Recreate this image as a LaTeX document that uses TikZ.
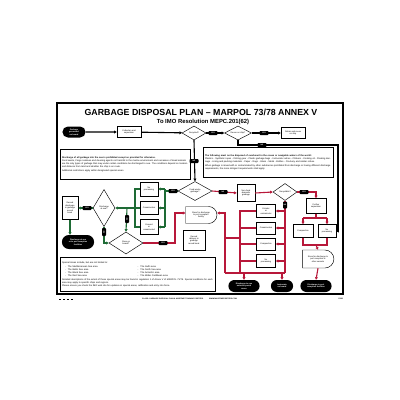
\documentclass[tikz,border=0pt]{standalone}
\usepackage{fontspec}
\setmainfont{Liberation Sans}
\usetikzlibrary{shapes.geometric,shapes.misc,arrows.meta}
\definecolor{gr}{HTML}{1E6B35}
\definecolor{rd}{HTML}{B8183A}
\tikzset{
  bx/.style={draw, line width=0.45pt, fill=white, inner sep=0.4pt, align=center, font=\fontsize{2.1}{2.4}\selectfont},
  dia/.style={diamond, aspect=2, draw, line width=0.45pt, fill=white, inner sep=0pt, align=center, font=\fontsize{2.1}{2.4}\selectfont},
  term/.style={rounded rectangle, fill=black, text=white, inner sep=0.4pt, align=center, font=\fontsize{2}{2.3}\selectfont\bfseries},
  halfround/.style={rounded rectangle, rounded rectangle west arc=none, draw, line width=0.45pt, fill=white, inner sep=0.4pt, align=center, font=\fontsize{2.1}{2.4}\selectfont},
  lab/.style={fill=black, rounded corners=0.8pt, text=white, inner sep=0.3pt, minimum width=9pt, minimum height=4pt, font=\fontsize{1.8}{2}\selectfont\bfseries},
  tbox/.style={draw, line width=0.5pt, fill=white, anchor=north west, inner sep=1.8pt, align=left, font=\fontsize{2.3}{3}\selectfont},
  bline/.style={draw=black, line width=1.1pt},
  barrow/.style={bline, -{Triangle[length=2.6pt,width=2.8pt]}},
  gline/.style={draw=gr, line width=1.1pt},
  garrow/.style={gline, -{Triangle[length=2.6pt,width=2.8pt]}},
  rline/.style={draw=rd, line width=1.1pt},
  rarrow/.style={rline, -{Triangle[length=2.6pt,width=2.8pt]}},
}
\begin{document}
\begin{tikzpicture}[x=1pt,y=-1pt]
\useasboundingbox (0,0) rectangle (400,400);
\fill[white] (0,0) rectangle (400,400);
\draw[line width=1.3pt] (57,103) rectangle (343,294);

% titles
\node[font=\fontsize{8.8}{9}\selectfont\bfseries] (title) at (201,112) {GARBAGE DISPOSAL PLAN – MARPOL 73/78 ANNEX V};
\node[font=\fontsize{5.9}{6.5}\selectfont\bfseries] (sub) at (203,121.5) {To IMO Resolution MEPC.201(62)};

% text boxes
\node[tbox, text width=126.4pt, minimum height=30pt] (tl) at (60,149) {\textbf{Discharge of all garbage into the sea is prohibited except as provided for otherwise.}\\[0.6pt]
Food waste, Cargo residues and cleaning agents not harmful to the marine environment and carcasses of dead animals are the only types of garbage that may under certain conditions be discharged to sea. The conditions depend on location and distance from land and whether the ship is en route.\\[0.6pt]
Additional restrictions apply within designated special areas.};
\node[tbox, text width=126.4pt, minimum height=30pt] (tr) at (203,147) {\textbf{The following must not be disposed of overboard in the ocean or navigable waters of the world:}\\[0.6pt]
Plastics - Synthetic ropes - Fishing gear - Plastic garbage bags - Incinerator ashes - Clinkers - Cooking oil - Floating dunnage - Lining and packing materials - Paper - Rags - Glass - Metal - Bottles - Crockery and similar refuse.\\[0.6pt]
When garbage is mixed with or contaminated by other substances prohibited from discharge or having different discharge requirements, the more stringent requirements shall apply.};
\node[tbox, text width=151.4pt, minimum height=34pt] (tb) at (60,257) {Special Areas include, but are not limited to:\\[0.3pt]
\begin{tabular}{@{\hspace{3pt}}l@{\hspace{40pt}}l@{}}
-\hspace{2pt}The Mediterranean Sea area & -\hspace{2pt}The Gulfs area\\
-\hspace{2pt}The Baltic Sea area & -\hspace{2pt}The North Sea area\\
-\hspace{2pt}The Black Sea area & -\hspace{2pt}The Antarctic area\\
-\hspace{2pt}The Red Sea area & -\hspace{2pt}The Wider Caribbean area
\end{tabular}\\[0.3pt]
Detailed descriptions of the extent of these special areas may be found in regulation 1 of Annex V of MARPOL 73/78. Special conditions for each area may apply to specific ships and regions.\\
Please ensure you check the IMO web site for updates on special areas, ratification and entry into force.};

% top row
\node[term, minimum width=24pt, minimum height=11pt] (start) at (74,132) {Garbage\\generated\\on board};
\node[bx, minimum width=24pt, minimum height=11pt] (coll) at (129,132) {Collection and\\separation};
\node[dia, minimum width=24pt, minimum height=14pt] (rec) at (194,133) {Recycled?};
\node[dia, minimum width=27pt, minimum height=14pt] (reuse) at (238,133) {Reuse on ship?};
\node[bx, minimum width=24pt, minimum height=11pt] (retain) at (293,133) {Retain and reuse\\on ship};

% green area
\node[dia, minimum width=34pt, minimum height=19pt] (nondom) at (195,191) {Food waste\\garbage?};
\node[bx, minimum width=18pt, minimum height=14pt] (gb1) at (149,189) {No\\processing};
\node[bx, minimum width=18pt, minimum height=13pt] (gb2) at (149,208) {Comminution};
\node[bx, minimum width=18pt, minimum height=15pt] (gb3) at (149,227) {Ground\\or\\comminuted};
\node[dia, aspect=1, minimum width=22pt, minimum height=37pt] (disc) at (104,208) {Discharge\\at sea?};
\node[bx, minimum width=16pt, minimum height=23pt] (record) at (70,208) {Record\\discharge\\in garbage\\record\\book};
\node[term, minimum width=33pt, minimum height=14pt] (endg) at (78,242) {Discharge at sea\\or to port reception\\facilities};
\node[dia, minimum width=34pt, minimum height=22pt] (store) at (126,243) {Store on\\board?};

% red area
\node[halfround, minimum width=32pt, minimum height=17pt] (port) at (201,215) {Store for discharge\\to port reception\\facility};
\node[bx, minimum width=22pt, minimum height=20pt] (rec2) at (194,240) {Record\\delivery in\\garbage\\record book};
\node[bx, minimum width=18pt, minimum height=17pt] (nf) at (246,193) {Non-food\\domestic\\garbage};
\node[dia, minimum width=24pt, minimum height=17pt] (sep) at (285,192) {Recyclable?};
\node[bx, minimum width=20pt, minimum height=15pt] (fsep) at (316,206) {Further\\separation};
\node[bx, minimum width=20pt, minimum height=13pt] (comp2) at (303,231) {Compaction};
\node[bx, minimum width=18pt, minimum height=13pt] (nop2) at (327,231) {No\\processing};
\node[halfround, minimum width=32pt, minimum height=18pt] (store2) at (318,259) {Store for discharge to\\port reception or\\other vessels};
\node[term, minimum width=32pt, minimum height=12pt] (endr3) at (316,286) {Discharge to port\\reception facilities};
\node[bx, minimum width=19pt, minimum height=13pt] (r1) at (266,211) {Grinder\\or\\comminutor};
\node[bx, minimum width=19pt, minimum height=12pt] (r2) at (266,228) {Comminution};
\node[bx, minimum width=19pt, minimum height=12pt] (r3) at (266,244) {Compaction};
\node[bx, minimum width=19pt, minimum height=13pt] (r4) at (266,261) {No\\processing};
\node[term, minimum width=32pt, minimum height=12pt] (endr1) at (244,286) {Discharge to sea\\outside special\\areas};
\node[term, minimum width=23pt, minimum height=12pt] (endr2) at (282,286) {Incinerate\\on board};

% black connectors
\draw[barrow] (start) -- (coll);
\draw[barrow] (coll) -- (rec);
\draw[barrow] (rec) -- (reuse);
\draw[barrow] (reuse) -- (retain);
\draw[barrow] (rec.south) -- (nondom.north);
\draw[barrow] (reuse.south) |- (338,145) -- (338,231) -- (nop2.east);

% green connectors
\draw[gline] (nondom.west) -- (165,191);
\draw[gline] (165,189) -- (165,227);
\draw[garrow] (165,189) -- (gb1.east);
\draw[garrow] (165,208) -- (gb2.east);
\draw[garrow] (165,227) -- (gb3.east);
\draw[gline] (gb1.west) -- (135,189) -- (135,227) -- (gb3.west);
\draw[gline] (gb2.west) -- (135,208);
\draw[garrow] (135,208) -- (disc.east);
\draw[garrow] (127,208) -- (store.north);
\draw[garrow] (disc.west) -- (record.east);
\draw[garrow] (record.south) -- (record.south |- endg.north);
\draw[garrow] (disc.south) |- (store.west);

% red connectors
\draw[rarrow] (store.east) -- (175,243) -- (175,213) -- (port.west |- 0,213);
\draw[rarrow] (nondom.east) -- (nf.west);
\draw[rarrow] (nf.east) -- (sep.west);
\draw[rarrow] (sep.east) -| (fsep.north);
\draw[rline] (fsep.south) -- (316,218);
\draw[rline] (303,218) -- (327,218);
\draw[rarrow] (303,218) -- (comp2.north);
\draw[rarrow] (327,218) -- (nop2.north);
\draw[rline] (comp2.south) |- (nop2.south |- 0,245) -- (nop2.south);
\draw[rarrow] (316,245) -- (store2.north);
\draw[rarrow] (store2.south) -- (endr3.north);
\draw[rline] (sep.south) -- (285,273);
\draw[rarrow] (285,211) -- (r1.east);
\draw[rarrow] (285,228) -- (r2.east);
\draw[rarrow] (285,244) -- (r3.east);
\draw[rarrow] (285,261) -- (r4.east);
\draw[rline] (r1.west) -- (240,211) -- (240,273);
\draw[rline] (r2.west) -- (240,228);
\draw[rline] (r3.west) -- (240,244);
\draw[rline] (r4.west) -- (240,261);
\draw[rline] (225,273) -- (285,273);
\draw[rline] (240,238) -- (225,238);
\draw[rarrow] (225,273) -- (225,213) -- (port.east |- 0,213);
\draw[rarrow] (244,273) -- (endr1.north);
\draw[rarrow] (282,273) -- (endr2.north);

% yes / no labels
\node[lab] (l1) at (213,133) {YES};
\node[lab] (l2) at (264,133) {YES};
\node[lab] (l3) at (262,145) {NO};
\node[lab] (l4) at (194,161) {NO};
\node[lab] (l5) at (173,191) {YES};
\node[lab] (l6) at (223,192) {NO};
\node[lab] (l7) at (87,208) {YES};
\node[lab, minimum width=4pt, minimum height=8pt] (l8) at (104,232) {\rotatebox{90}{NO}};
\node[lab, minimum width=4pt, minimum height=8pt] (l9) at (127,219) {\rotatebox{90}{NO}};
\node[lab] (l10) at (163,243) {YES};
\node[lab] (l11) at (304,192) {YES};
\node[lab, minimum width=4pt, minimum height=7pt] (l12) at (285,205) {NO};

% footer
\foreach \i in {0,1,2,3} \fill (59+4*\i,298.5) rectangle ++(1.6,1.6);
\node[font=\fontsize{1.8}{2}\selectfont\bfseries, anchor=west, inner sep=0pt] (foot) at (142,299.3) {CLASS: GARBAGE DISPOSAL PLAN \& MARITIME TRAINING POSTERS\hspace{6pt}WWW.MARITIMEPOSTERS.COM};
\node[font=\fontsize{1.8}{2}\selectfont\bfseries, anchor=east, inner sep=0pt] (code) at (343,299.3) {P083};
\end{tikzpicture}
\end{document}
